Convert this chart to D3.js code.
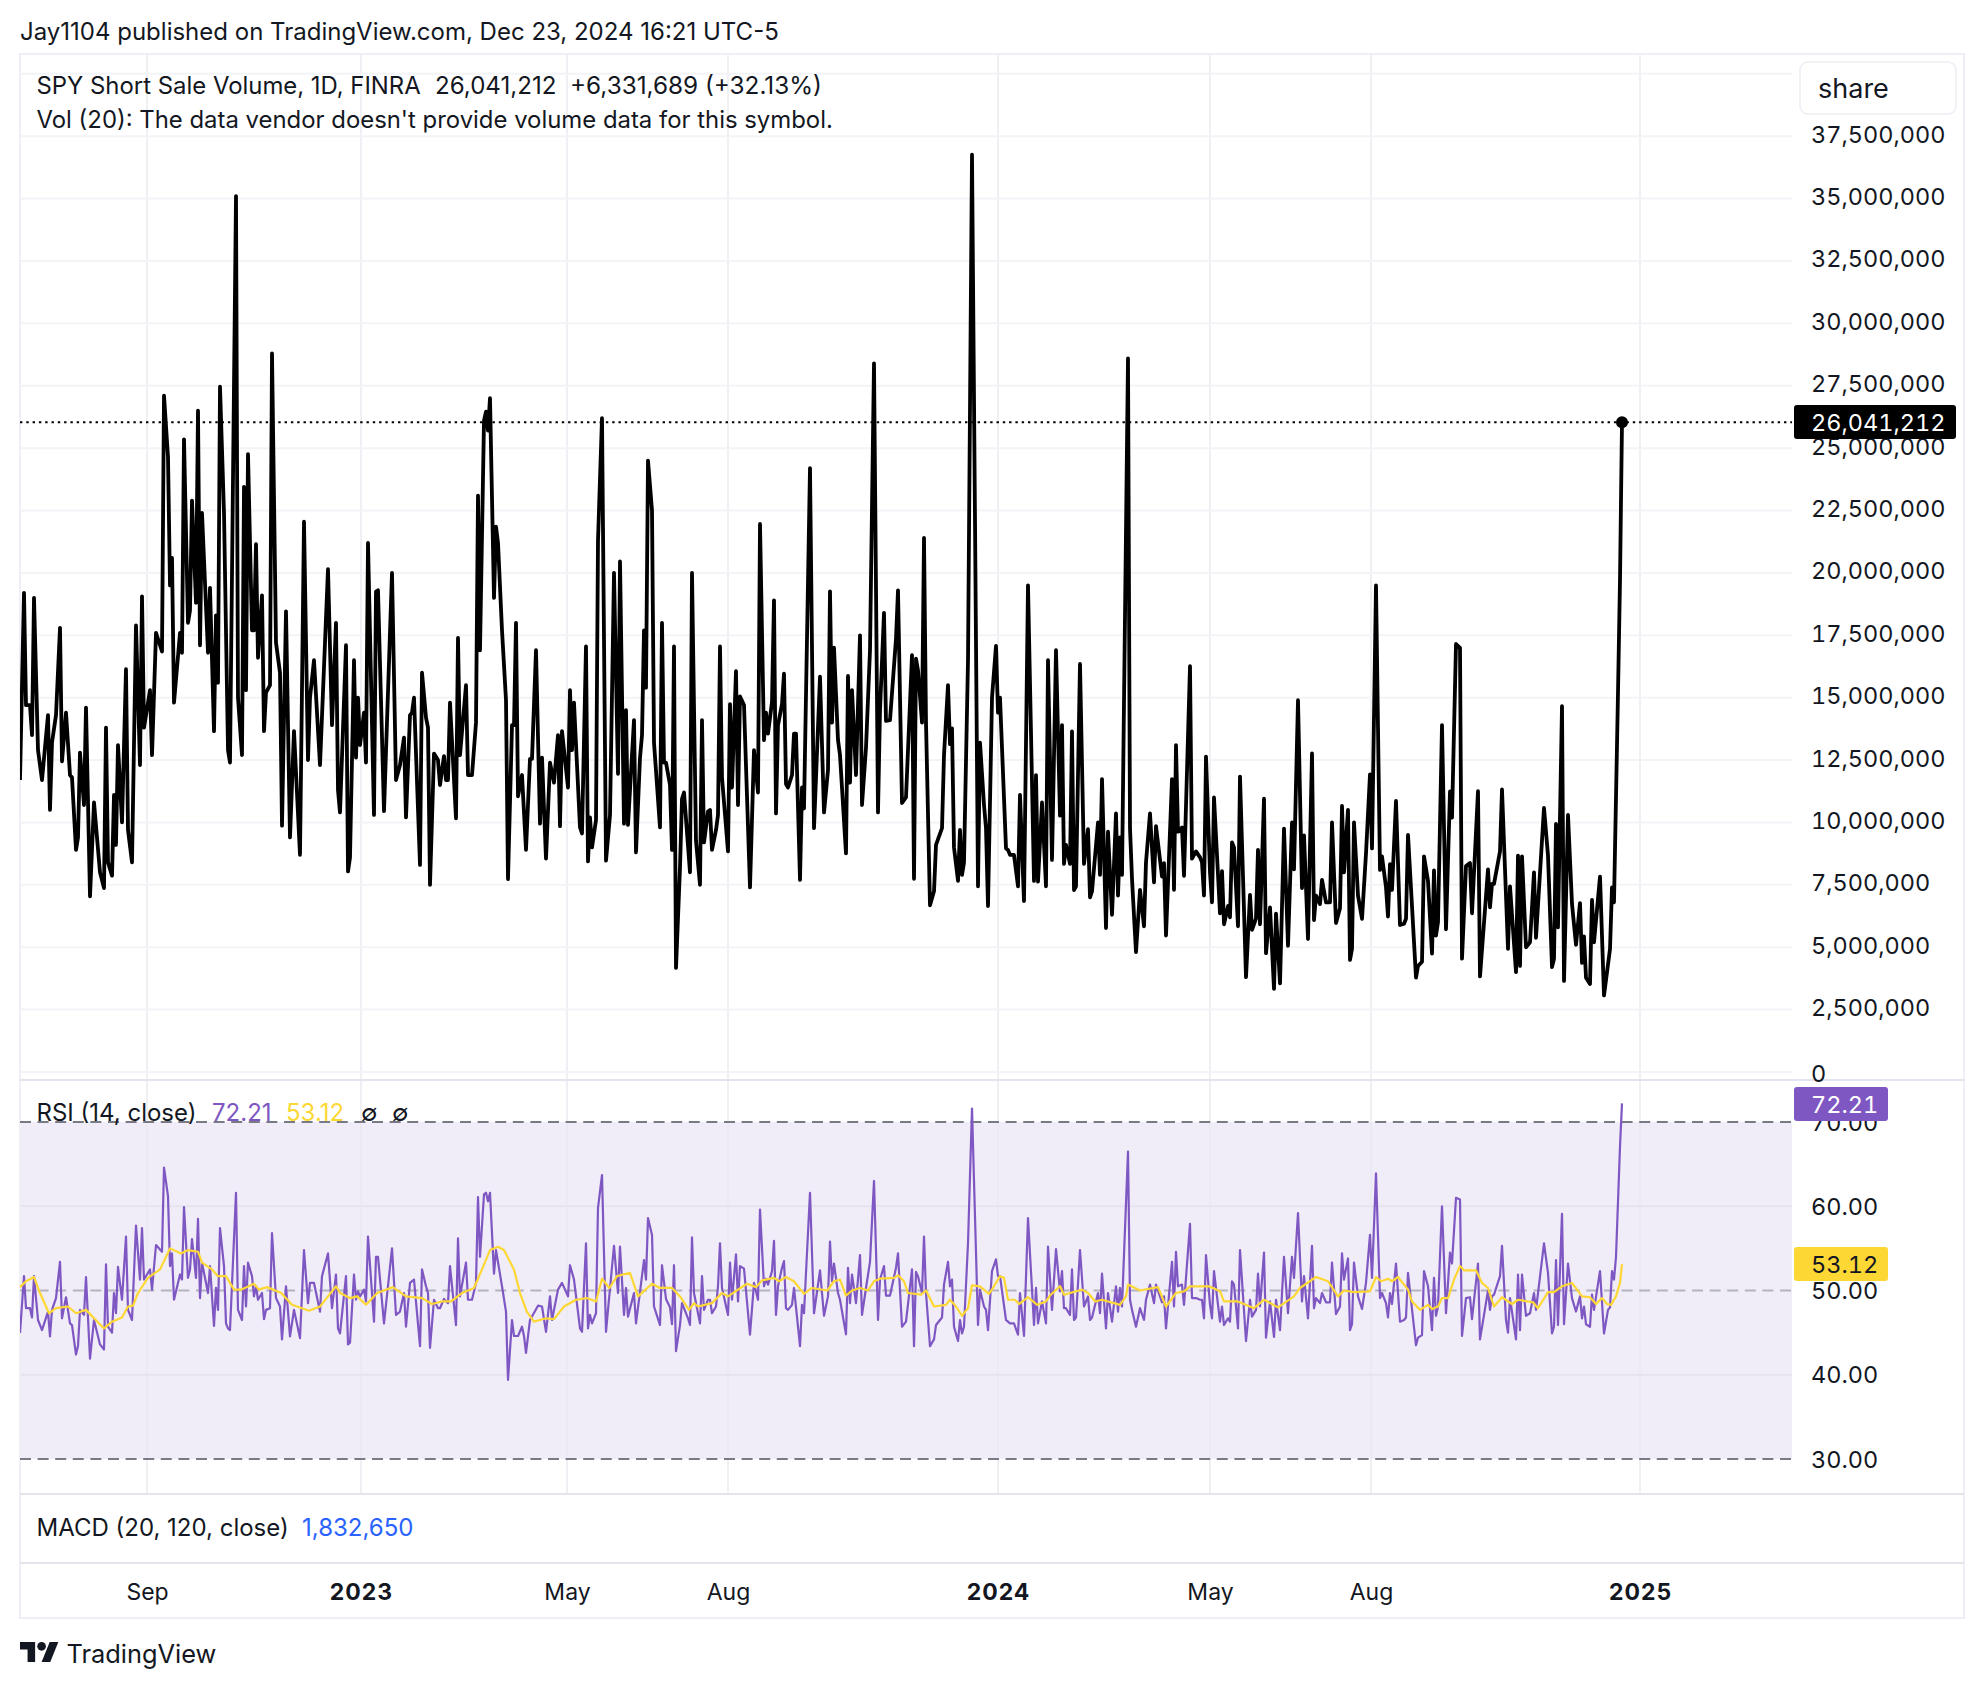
<!DOCTYPE html>
<html>
<head>
<meta charset="utf-8">
<style>
  html, body { margin: 0; background: #fff; }
  svg { display: block; }
  text { font-family: Inter, "Noto Sans", sans-serif; fill: #131722; }
</style>
<script src="https://cdn.jsdelivr.net/npm/d3@7"></script>
</head>
<body>
<svg id="chart" width="1984" height="1688"></svg>
<script>
'use strict';

/* ── Data: [bar number, value] ────────────────────────────── */
const shortVolume = [ // millions of shares
  [0,11.7],[2,19.2],[3,14.7],[5,14.7],[6,13.5],[7,19],[9,12.9],[11,11.7],[14,14.3],[15,10.5],[16,13.2],[18,14.3],[20,17.8],[21,12.45],[23,14.4],[25,11.9],[26,11.8],[28,8.9],[29,9.4],[30,12.8],
  [32,10.7],[33,14.6],[35,7.04],[37,10.8],[40,8],[42,7.37],[43,13.8],[44,8.4],[46,7.87],[47,11.1],[48,9.1],[49,13.1],[51,10],[53,16.14],[54,9.7],[56,8.4],[58,17.9],[60,12.3],[61,19.06],[62,13.8],
  [65,15.3],[66,12.7],[68,17.6],[71,16.85],[72,27.1],[74,24.65],[75,19.5],[76,20.6],[77,14.8],[80,17.6],[81,16.8],[82,25.35],[84,18],[85,18.5],[86,22.9],[88,18.8],[89,26.5],[90,17.1],[91,22.4],[94,16.8],
  [95,19.4],[97,13.66],[98,18.3],[99,15.6],[100,27.46],[102,22.4],[104,12.9],[105,12.4],[108,35.1],[109,15],[111,12.7],[112,23.45],[113,15.3],[114,24.76],[116,17.7],[117,17.7],[118,21.15],[119,16.6],[121,19.1],[122,13.66],
  [123,15.2],[125,15.5],[126,28.8],[128,17.2],[130,16],[131,9.87],[133,18.46],[135,9.4],[137,13.66],[140,8.7],[142,22.05],[144,12.5],[145,15],[147,16.5],[150,12.3],[154,20.15],[156,13.9],[158,18],[159,11.3],[160,10.4],
  [163,17.1],[164,8.04],[165,8.6],[167,16.5],[168,12.6],[169,15],[170,13.1],[172,14.4],[173,12.4],[174,21.2],[177,10.3],[178,19.25],[179,19.3],[182,10.45],[186,20],[188,11.7],[190,12.3],[192,13.4],[193,10.2],[195,14.3],
  [196,14.4],[197,15],[200,8.3],[201,16],[203,14.2],[204,13.8],[205,7.5],[207,12.76],[209,12.5],[210,11.5],[212,12.66],[213,11.7],[214,11.7],[215,14.8],[218,10.16],[219,17.4],[220,12.7],[223,15.5],[224,11.9],[226,11.9],
  [228,14],[229,23.1],[230,16.9],[232,26.1],[233,26.46],[234,25.7],[235,27],[237,19],[238,21.85],[239,21.2],[241,17.7],[243,14.9],[244,7.73],[246,13.9],[247,13.9],[248,18],[249,11.05],[251,11.9],[253,8.9],[255,12.55],
  [256,12.55],[258,16.9],[260,9.95],[261,12.6],[263,8.55],[265,12.4],[267,11.6],[269,13.5],[270,9.85],[271,13.66],[274,11.4],[275,15.3],[276,12.9],[277,14.8],[280,9.8],[281,9.56],[283,17.05],[284,8.44],[285,10.2],[286,9],
  [288,10.1],[289,21.3],[291,26.2],[293,8.47],[295,10.3],[297,20],[299,11.95],[300,20.46],[302,9.95],[303,14.5],[304,9.9],[307,14.1],[308,8.8],[310,12.6],[311,13.5],[312,17.7],[313,15.4],[314,24.5],[316,22.5],[317,13.2],
  [320,9.8],[321,18],[322,12.4],[323,12.4],[325,11.5],[326,8.9],[327,17.05],[328,4.17],[330,8.2],[331,10.95],[332,11.2],[335,8],[336,20],[338,9.26],[340,7.5],[341,14.1],[342,9.2],[344,10.44],[345,10.5],[346,8.9],
  [348,9.7],[349,10.3],[350,17.05],[351,11.8],[354,8.84],[355,14.74],[356,11.4],[358,16.06],[359,10.7],[360,15.05],[362,14.7],[365,7.4],[367,12.9],[369,11.2],[370,21.96],[372,13.3],[373,14.4],[374,13.56],[376,14.83],[377,18.9],
  [378,10.36],[379,13.9],[381,14.74],[382,15.96],[383,11.54],[384,11.4],[386,11.9],[387,13.56],[388,13.56],[390,7.7],[391,11.4],[392,10.56],[395,24.2],[397,9.77],[400,15.84],[402,10.4],[404,12.1],[405,19.26],[406,14],[407,17],
  [409,13.3],[410,12.7],[413,8.76],[414,15.87],[415,11.6],[416,15.3],[418,11.9],[420,17.5],[421,10.7],[423,13],[425,16.9],[427,28.4],[429,10.4],[430,14.5],[432,18.4],[433,14.07],[435,14.1],[438,17.36],[439,19.3],[441,10.78],
  [443,11],[446,16.7],[447,7.74],[448,16.56],[449,16.1],[451,14],[452,21.4],[453,14],[455,6.68],[457,7.24],[458,9.1],[461,9.77],[462,12.7],[464,15.5],[465,13.14],[466,13.77],[467,9],[469,7.66],[470,9.7],[471,7.9],
  [472,8.4],[474,16.5],[476,36.76],[479,7.44],[480,13.2],[482,10.7],[483,9.77],[484,6.65],[486,15],[488,17.07],[489,14.4],[490,15],[493,8.96],[494,8.9],[495,8.7],[497,8.7],[499,7.44],[500,11.1],[502,6.85],[504,19.5],
  [507,7.66],[508,11.9],[509,7.63],[511,10.8],[513,7.44],[514,16.5],[516,8.5],[518,16.9],[520,10.27],[521,13.9],[522,8.34],[523,9.1],[525,8.34],[526,13.65],[527,7.29],[528,7.44],[530,16.35],[532,8.34],[534,9.73],[535,7],
  [536,7.24],[539,10],[540,7.9],[541,11.74],[543,5.77],[544,9.63],[546,6.3],[548,10.36],[549,7.07],[550,9.4],[551,7.9],[554,28.6],[555,9.77],[556,7.74],[558,4.8],[560,7.3],[562,5.84],[563,8.4],[565,10.36],[567,7.6],
  [568,9.85],[571,7.83],[572,8.37],[573,5.47],[576,11.74],[577,7.3],[578,13.1],[579,9.63],[581,9.8],[582,7.86],[585,16.26],[586,8.55],[588,8.84],[590,8.6],[591,8.4],[592,7.07],[593,12.64],[595,8],[596,6.8],[597,11],
  [600,6.36],[601,8.05],[602,5.92],[604,6.65],[605,6.2],[606,9.2],[607,9],[609,5.84],[610,11.84],[613,3.8],[615,7.1],[616,5.7],[618,6.15],[619,8.9],[620,5.92],[622,10.95],[623,4.76],[625,6.6],[627,3.33],[628,6.35],
  [630,3.55],[632,9.75],[634,5.06],[636,10],[637,8.12],[639,14.9],[641,7.37],[642,9.48],[644,5.33],[646,12.77],[647,6.09],[648,7.07],[650,6.73],[651,7.7],[653,6.8],[655,6.8],[656,10],[658,5.97],[660,6.56],[661,10.66],
  [662,8],[664,10.5],[665,4.49],[666,4.93],[667,10],[669,7.07],[671,6.14],[673,8.76],[675,11.93],[676,8.96],[678,19.5],[680,8.1],[681,8.64],[683,7.4],[684,6.23],[685,8.33],[686,7.3],[688,10.86],[690,5.89],[692,5.94],
  [693,6.14],[694,9.5],[698,3.78],[699,4.25],[701,4.42],[702,8.64],[704,7.66],[706,4.74],[707,8.08],[708,5.47],[709,6],[711,13.9],[713,5.72],[715,11.24],[716,10.19],[718,17.15],[720,17],[721,4.54],[723,8.25],[725,8.37],
  [726,6.36],[729,11.25],[730,3.83],[734,8.12],[735,6.6],[736,7.54],[737,7.54],[740,8.84],[741,11.32],[744,4.93],[745,7.44],[748,4],[749,8.67],[750,4.25],[751,8.64],[753,5],[755,5.2],[757,8],[758,5.38],[762,10.58],
  [764,8.67],[766,4.2],[767,4.54],[768,9.94],[769,5.8],[771,14.66],[772,3.65],[774,10.3],[776,6.73],[778,5.1],[780,6.77],[781,4.37],[782,5.43],[783,3.78],[785,3.53],[786,6.9],[787,5.2],[790,7.83],[792,3.07],[795,4.93],
  [796,7.4],[797,6.8],[799,15.2],[800,19.71],[801,26.041212]
];

const rsiValues = [
  [0,44.95],[2,51.7],[3,47.9],[5,47.9],[6,46.8],[7,51.7],[9,46.5],[11,45.3],[14,47.5],[15,44.55],[16,47.7],[18,49.1],[20,53.4],[21,46.7],[23,49.2],[25,46.1],[26,45.9],[28,42.4],[29,43.4],[30,47.7],
  [32,47.1],[33,51.6],[35,41.9],[37,46.5],[40,43.6],[42,43],[43,53.1],[44,45.7],[46,45],[47,49.7],[48,47.3],[49,52.8],[51,48.9],[53,56.4],[54,47.7],[56,46.5],[58,57.7],[60,51.3],[61,57.4],[62,51.3],
  [65,52.5],[66,50.1],[68,55.4],[71,54.6],[72,64.6],[74,61.2],[75,52.9],[76,54.4],[77,48.9],[80,51.9],[81,51.3],[82,59.9],[84,51.5],[85,52.5],[86,56.1],[88,51.5],[89,58.5],[90,49.1],[91,53.3],[94,49.7],
  [95,52.9],[97,45.8],[98,50.3],[99,47.7],[100,57.4],[102,52.9],[103,46.1],[104,45.5],[105,45.3],[108,61.6],[109,47.7],[111,46.5],[112,52.9],[113,48.1],[114,53.3],[116,51.7],[117,49.3],[118,50.5],[119,48.9],[121,49.7],
  [122,46.6],[123,47.7],[125,47.9],[126,56.8],[128,49.1],[130,48.1],[131,44.2],[133,50.5],[135,44.55],[137,47.7],[140,44.35],[142,54.8],[144,48.5],[145,50.9],[147,50.9],[150,47.5],[151,51.7],[154,54.4],[156,47.9],[158,51.9],
  [159,45.5],[160,44.9],[163,51.7],[164,43.6],[165,43.8],[167,51.9],[168,48.9],[169,49.9],[170,49.3],[172,50.1],[173,48.7],[174,56.4],[177,46.3],[178,54],[179,54],[182,46.1],[186,55],[188,47.1],[190,47.5],[192,49.7],
  [193,45.7],[195,50.9],[197,51.3],[200,43.4],[201,52.5],[203,50.5],[204,49.7],[205,43.2],[207,48.9],[209,47.9],[210,47.9],[212,49],[214,48.5],[215,52.9],[218,45.9],[219,56.2],[220,49.3],[223,53.3],[224,48.9],[226,48.9],
  [228,50.9],[229,61.1],[230,54],[232,61.4],[233,61.6],[234,60.6],[235,61.6],[237,52],[238,54.8],[241,50.5],[243,47.5],[244,39.4],[246,46.5],[247,44.6],[249,44.6],[251,45.7],[252,44.6],[253,42.6],[255,46.5],[259,48.2],
  [261,48.1],[263,45.1],[265,49.3],[266,46.5],[269,50.1],[271,50.9],[274,49.3],[275,53],[277,51.3],[280,45.5],[281,45.1],[283,55.6],[284,45.5],[285,47.1],[286,46.1],[288,47.3],[289,59.8],[291,63.7],[293,45.1],[294,47.7],
  [297,55.3],[299,49.7],[300,55.2],[302,47.1],[303,50.3],[304,46.9],[307,49.7],[308,46.1],[312,53.6],[313,51.3],[314,58.6],[316,56.6],[317,48.1],[320,45.9],[321,53],[323,49],[325,48],[326,46],[327,53],[328,42.8],
  [330,45.9],[331,48.5],[334,46.7],[335,45.9],[336,56.3],[337,49.7],[340,46.1],[341,51.7],[342,47.7],[344,48.9],[345,48.9],[346,47.3],[348,48.1],[349,50.5],[350,55.6],[351,50.3],[354,47.1],[355,53.3],[356,48.9],[358,54.3],
  [359,48.7],[360,52.9],[362,52.6],[365,44.75],[367,50.9],[369,48.9],[370,59.6],[372,50.5],[373,51.4],[374,50.7],[376,52.3],[377,55.9],[378,47.1],[379,50.5],[381,52.7],[382,53.5],[383,47.9],[384,47.7],[386,48.3],[387,50.3],
  [390,43.4],[391,48.3],[392,47.3],[395,61.6],[397,47.3],[400,52.4],[402,47],[404,49.3],[405,55.8],[406,51.1],[407,53.2],[409,49.7],[410,48.9],[413,44.8],[414,52.7],[415,48.5],[416,51.9],[418,48.5],[420,54.2],[421,47.1],
  [423,50.3],[425,53.4],[427,63],[429,46.5],[430,51.3],[432,52.9],[433,49.4],[435,49.4],[438,52.7],[439,54.4],[441,45.7],[443,46.3],[446,52.5],[447,43.4],[448,52.2],[449,51.7],[451,49.7],[452,56.4],[453,49.7],[455,43.4],
  [457,44.2],[458,45.9],[461,46.8],[462,50.7],[464,53.4],[465,50.5],[466,51.3],[467,45.7],[469,44],[470,46.5],[471,44.9],[472,45.7],[474,55.6],[476,71.6],[479,45.9],[480,50.1],[482,48.1],[483,47.7],[484,45.3],[486,52.3],
  [488,53.7],[489,51.7],[490,51.7],[493,46.5],[494,46.3],[495,46.1],[497,46.1],[499,44.75],[500,49.7],[502,44.6],[504,58.6],[507,45.9],[508,50.3],[509,46.1],[511,48.7],[513,46.1],[514,55.2],[516,47.7],[518,54.9],[520,49.9],
  [521,52.3],[522,47.9],[523,47.9],[525,47.1],[526,52.5],[527,46.5],[528,46.8],[530,54.8],[532,48.1],[534,49.3],[535,46.5],[536,46.8],[539,49.7],[540,47.3],[541,52],[543,45.5],[544,49.7],[546,46.3],[548,50.5],[549,47.5],
  [550,50.3],[551,48.1],[554,66.5],[555,48.9],[556,47.7],[558,45.7],[560,47.9],[562,46.5],[563,48.9],[565,50.7],[567,48.5],[568,50.7],[571,48.6],[572,49.3],[573,45.5],[576,53.4],[577,48.1],[578,54.6],[579,50.5],[581,50.7],
  [582,48.3],[585,57.9],[586,49.1],[588,49.1],[590,48.9],[591,48.9],[592,46.7],[593,54.2],[595,48.3],[596,46.7],[597,52.3],[600,46.3],[601,48.1],[602,45.9],[604,46.7],[605,46.3],[606,51.1],[607,50.7],[609,45.5],[610,54.8],
  [613,44],[615,48.9],[616,46.9],[618,47.7],[619,52],[620,48.1],[622,54.5],[623,44.4],[625,48.7],[627,44.5],[628,48.9],[630,45.3],[632,54],[634,47.3],[636,54],[637,51.5],[639,59.2],[641,48.7],[642,51.7],[644,46.7],
  [646,55.3],[647,47.9],[648,49.1],[650,48.5],[651,49.7],[653,48.6],[655,48.6],[656,53.3],[658,47.2],[660,48.1],[661,54.4],[662,51.3],[664,53.8],[665,45.3],[666,46],[667,53.3],[669,49.3],[671,47.8],[673,50.9],[675,56.6],
  [676,51.5],[678,63.9],[680,49.1],[681,49.7],[683,48.5],[684,46.8],[685,49.7],[686,48.4],[688,53.2],[690,46.3],[692,46.5],[693,46.8],[694,52.1],[698,43.5],[699,44.4],[701,44.7],[702,52.3],[704,50.5],[706,45.3],[707,51.5],
  [708,47],[709,48.1],[711,60],[713,47.3],[715,54.5],[716,53.2],[718,61],[720,60.8],[721,44.6],[723,49.1],[725,49.2],[726,46.6],[729,53.2],[730,44.2],[734,50],[735,47.7],[736,49.3],[737,49.5],[740,51.7],[741,55.3],
  [743,46.5],[744,45],[745,49.1],[748,44.2],[749,51.9],[750,45.3],[751,51.9],[753,47],[755,47.3],[757,49.7],[758,47.7],[762,55.6],[764,52.1],[766,44.9],[767,45.7],[768,53.6],[769,45.9],[771,59.1],[772,46],[774,53.2],
  [776,49.1],[778,47.5],[780,49.3],[781,46.7],[782,48.1],[783,46],[785,45.7],[786,49.5],[787,47.7],[790,52.3],[792,44.9],[794,47.7],[795,48],[796,52.3],[797,51.3],[798,54],[800,67.1],[801,72.21]
];

const rsiAverage = [
  [0,50.4],[3,51.1],[7,51.6],[10,49.7],[14.5,47.3],[18,47.9],[24,48.1],[28,47.3],[33,47.7],[37,46.7],[42,45.5],[46,46.3],[51,46.8],[54,48.1],[56.5,48.2],[59,49.7],[64,51.5],[70,52.5],[75,55],[80.5,54.4],
  [84,54.8],[89,54.6],[91,53.3],[96,52.5],[99,51.7],[103,51.7],[107,50.1],[110.5,50.1],[117,50.8],[119.5,50.1],[123.5,50.4],[130.6,49.7],[136,48.3],[141,47.9],[144.5,47.6],[150,48.1],[154,49.3],[158,50.5],[160,49.7],[165,49.1],
  [168.6,49.3],[173,48.3],[178.6,49.7],[186.4,50.4],[193,49.3],[201,49.1],[206,48.4],[211,48.7],[215.5,48.7],[221,49.7],[227,50.3],[231,52.5],[235,54.8],[239,55.2],[242,54.8],[247,52.5],[250,49.7],[253.4,47.5],[257,46.3],[263,46.7],
  [267,46.6],[272,48.1],[278,48.9],[283.5,49.1],[288,48.7],[291,51.4],[294.7,50.3],[298.5,51.7],[305,52.1],[309,49.3],[316,50.8],[320,50.3],[326,50.3],[330,49.3],[334.5,47.7],[337,48.5],[339,48.1],[346,48.5],[351,49.7],[354,49.3],
  [359,50.1],[363.5,50.8],[368,50.4],[371,51.2],[377,51.5],[379.6,51.1],[383,51.6],[387,51.1],[392,49.6],[396,50.3],[403.7,50],[407,51.1],[410,51.3],[413,49.4],[416,50],[420,50.3],[424,50],[427,51.1],[430,51.4],[437,51.5],
  [439,51.8],[442,51.1],[444,49.7],[450.5,49.5],[453,50],[457,48.1],[463,48.3],[465,48.9],[468,48.1],[471,47],[474,47.9],[476,50.6],[480,50.5],[484.5,49.6],[487,50.5],[490,51.7],[492,51.5],[494,48.9],[497.4,48.9],[499.6,48.4],
  [504,49.2],[508.6,48.3],[513,48.7],[515,49.4],[520,50.5],[522,49.5],[531,50.1],[534,49.7],[537.6,48.7],[541,48.9],[550,48.3],[553,49.3],[554,50.7],[560,50],[569,50.4],[573,48.1],[578,49.7],[582,49.9],[585,50.5],[594.5,50.5],
  [600,49.9],[602,48.7],[609,48.7],[617,47.9],[622,48.9],[629,48],[637,49.3],[640,50.3],[648,51.6],[654,51.1],[659,49.3],[662,50],[667,49.8],[675,49.9],[678,51.6],[680.5,51.1],[684,51.4],[686,51.1],[689,51.6],[694,50.1],
  [696,48.7],[700,47.7],[704,48.3],[706,47.8],[709,48.1],[711,49.1],[714,49.1],[717,51.3],[720,52.9],[722,52.4],[728,52.4],[731,50.9],[734,50.3],[737,48.1],[741,49.2],[746,48.4],[749,48.9],[756.5,48.6],[759,47.9],[764,49.8],
  [767,49.8],[771,50.5],[776,50.9],[781,49.3],[785,49.2],[788,48.4],[791,49.1],[793.5,48.4],[795.5,48.3],[798,49.3],[800,50.9],[801,53.12]
];

const timeTickBars   = [63.5, 170.5, 273.5, 354, 489, 595, 675.5, 810];
const timeTickLabels = ['Sep', '2023', 'May', 'Aug', '2024', 'May', 'Aug', '2025'];
const boldTicks      = ['2023', '2024', '2025'];
const volumeTicks    = [0, 2.5, 5, 7.5, 10, 12.5, 15, 17.5, 20, 22.5, 25, 27.5, 30, 32.5, 35, 37.5];
const volumeGridOnly = [40];
const rsiTicks       = [30, 40, 50, 60, 70];

/* ── Layout ───────────────────────────────────────────────── */
const LEFT = 20, PLOT_R = 1792, FRAME_R = 1964;
const TOP = 54, RSI_TOP = 1080, RSI_BOT = 1494, MACD_BOT = 1563, FRAME_BOT = 1618;
const LABEL_X = 1811;

const GRID = '#f3f4f8', EDGE = '#e3e5ee';
const PURPLE = '#7e57c2', YELLOW = '#fdd835', INK = '#131722';

const svg = d3.select('#chart');

const x    = d3.scaleLinear().domain([0, 801]).range([LEFT, 1622]);
const yVol = d3.scaleLinear().domain([0, 40]).range([1072, 73.8]);
const yRsi = d3.scaleLinear().domain([30, 70]).range([1459, 1122]);

const volLine = d3.line().x(d => x(d[0])).y(d => yVol(d[1]));
const rsiLine = d3.line().x(d => x(d[0])).y(d => yRsi(d[1]));

function hline(y, x1, x2, color, w, dash) {
  const l = svg.append('line')
    .attr('x1', x1).attr('x2', x2).attr('y1', y).attr('y2', y)
    .attr('stroke', color).attr('stroke-width', w);
  if (dash) l.attr('stroke-dasharray', dash);
  return l;
}

/* ── RSI band sits under the grid ── */
svg.append('rect')
  .attr('x', LEFT).attr('y', yRsi(70))
  .attr('width', PLOT_R - LEFT).attr('height', yRsi(30) - yRsi(70))
  .attr('fill', PURPLE).attr('fill-opacity', 0.115);

/* ── Grid ── */
timeTickBars.forEach(b => {
  svg.append('line')
    .attr('x1', x(b)).attr('x2', x(b)).attr('y1', TOP).attr('y2', RSI_BOT)
    .attr('stroke', '#e9eaf0').attr('stroke-opacity', 0.75).attr('stroke-width', 2);
});
volumeTicks.concat(volumeGridOnly).forEach(v => hline(yVol(v), LEFT, PLOT_R, GRID, 2));
[40, 60].forEach(v => hline(yRsi(v), LEFT, PLOT_R, '#e6e3ee', 2));

/* ── Frame and pane edges ── */
svg.append('rect')
  .attr('x', LEFT).attr('y', TOP)
  .attr('width', FRAME_R - LEFT).attr('height', FRAME_BOT - TOP)
  .attr('fill', 'none').attr('stroke', '#eff0f5').attr('stroke-width', 2);
[RSI_TOP, RSI_BOT, MACD_BOT].forEach(y => hline(y, LEFT, FRAME_R, EDGE, 2));

/* ── RSI reference lines ── */
hline(yRsi(70), LEFT, PLOT_R, '#787b86', 2, '11 6.6');
hline(yRsi(30), LEFT, PLOT_R, '#787b86', 2, '11 6.6');
hline(yRsi(50), LEFT, PLOT_R, '#787b86', 2, '11 6.6').attr('stroke-opacity', 0.5);

/* ── Series ── */
svg.append('defs').append('clipPath').attr('id', 'plot-clip')
  .append('rect').attr('x', LEFT).attr('y', TOP)
  .attr('width', PLOT_R - LEFT).attr('height', RSI_BOT - TOP);
const plot = svg.append('g').attr('clip-path', 'url(#plot-clip)');

plot.append('path').datum(rsiValues).attr('d', rsiLine)
  .attr('fill', 'none').attr('stroke', PURPLE).attr('stroke-width', 2.2).attr('stroke-linejoin', 'round');
plot.append('path').datum(rsiAverage).attr('d', rsiLine)
  .attr('fill', 'none').attr('stroke', YELLOW).attr('stroke-width', 2.2).attr('stroke-linejoin', 'round');

const last = shortVolume[shortVolume.length - 1];
hline(yVol(last[1]), LEFT, PLOT_R, '#000', 2, '2.4 3.9');
plot.append('path').datum(shortVolume).attr('d', volLine)
  .attr('fill', 'none').attr('stroke', '#000').attr('stroke-width', 3.8).attr('stroke-linejoin', 'round');
svg.append('circle').attr('cx', x(last[0])).attr('cy', yVol(last[1])).attr('r', 6).attr('fill', '#000');

/* ── Price axes ── */
function styleAxis(g, size) {
  g.select('.domain').remove();
  g.selectAll('.tick line').remove();
  g.selectAll('.tick text')
    .attr('font-size', size).attr('fill', INK)
    .style('font-family', 'Inter, sans-serif');
}

const volAxis = svg.append('g').attr('transform', `translate(${LABEL_X},-1.5)`)
  .call(d3.axisRight(yVol).tickValues(volumeTicks).tickSize(0).tickPadding(0)
    .tickFormat(d => d3.format(',')(d * 1e6)))
  .call(styleAxis, 23.5);
volAxis.selectAll('.tick text').style('font-variant-numeric', 'tabular-nums');
volAxis.selectAll('.tick').filter(d => d === 0).select('text').attr('y', 3);

svg.append('g').attr('transform', `translate(${LABEL_X},0.5)`)
  .call(d3.axisRight(yRsi).tickValues(rsiTicks).tickSize(0).tickPadding(0)
    .tickFormat(d3.format('.2f')))
  .call(styleAxis, 23.5)
  .selectAll('.tick text').style('font-variant-numeric', 'tabular-nums');

/* ── Badges on the price axis ── */
function badge(x0, y0, w, h, fill, label, color, labelX) {
  svg.append('rect').attr('x', x0).attr('y', y0).attr('width', w).attr('height', h)
    .attr('rx', 3).attr('fill', fill);
  svg.append('text').attr('x', labelX).attr('y', y0 + h / 2 + 8.5)
    .attr('font-size', 23.5).style('fill', color)
    .style('font-variant-numeric', 'tabular-nums')
    .text(label);
}
badge(1794, 405, 162, 34, '#000', d3.format(',')(Math.round(last[1] * 1e6)), '#fff', LABEL_X);
badge(1794, 1087, 94, 34, PURPLE, '72.21', '#fff', LABEL_X);
badge(1794, 1247, 94, 34, YELLOW, '53.12', INK, LABEL_X);

/* ── Time axis ── */
const timeAxis = svg.append('g').attr('transform', `translate(0,${MACD_BOT})`)
  .call(d3.axisBottom(x).tickValues(timeTickBars).tickSize(0).tickPadding(0)
    .tickFormat((d, i) => timeTickLabels[i]))
  .call(styleAxis, 23);
timeAxis.selectAll('.tick text')
  .attr('y', 37).attr('dy', 0)
  .attr('font-weight', d => boldTicks.includes(timeTickLabels[timeTickBars.indexOf(d)]) ? 700 : 400)
  .style('letter-spacing', d => boldTicks.includes(timeTickLabels[timeTickBars.indexOf(d)]) ? '1px' : '0');

/* ── Legend text ── */
function label(tx, ty, str, color, size) {
  return svg.append('text').attr('x', tx).attr('y', ty)
    .attr('font-size', size || 24).style('fill', color || INK).text(str);
}
label(20, 40, 'Jay1104 published on TradingView.com, Dec 23, 2024 16:21 UTC-5');
label(36.5, 94, 'SPY Short Sale Volume, 1D, FINRA', INK, 23.9);
label(435, 94, '26,041,212', INK, 24.1);
label(570, 94, '+6,331,689 (+32.13%)', INK, 24.3);
label(36.5, 128, "Vol (20): The data vendor doesn't provide volume data for this symbol.", INK, 23.9);
label(36.5, 1121, 'RSI (14, close)');
label(212, 1121, '72.21', PURPLE);
label(286, 1121, '53.12', YELLOW);
label(361, 1121, '∅');
label(392, 1121, '∅');
label(36.5, 1536, 'MACD (20, 120, close)');
label(302, 1536, '1,832,650', '#2962ff');

/* ── Share button ── */
svg.append('rect').attr('x', 1800).attr('y', 62).attr('width', 156).attr('height', 52)
  .attr('rx', 8).attr('fill', '#fff').attr('stroke', '#eceef4').attr('stroke-width', 1.5);
label(1818, 98, 'share', INK, 27);

/* ── Logo ── */
const logo = svg.append('g').attr('transform', 'translate(20,1642) scale(1.08)').attr('fill', INK);
logo.append('path').attr('d', 'M14 18.5H7V7H0V0h14v18.5zM28 18.5h-8L27.5 0h8L28 18.5z');
logo.append('circle').attr('cx', 20).attr('cy', 4).attr('r', 4);
label(66.5, 1663, 'TradingView', INK, 25.4);
</script>
</body>
</html>
